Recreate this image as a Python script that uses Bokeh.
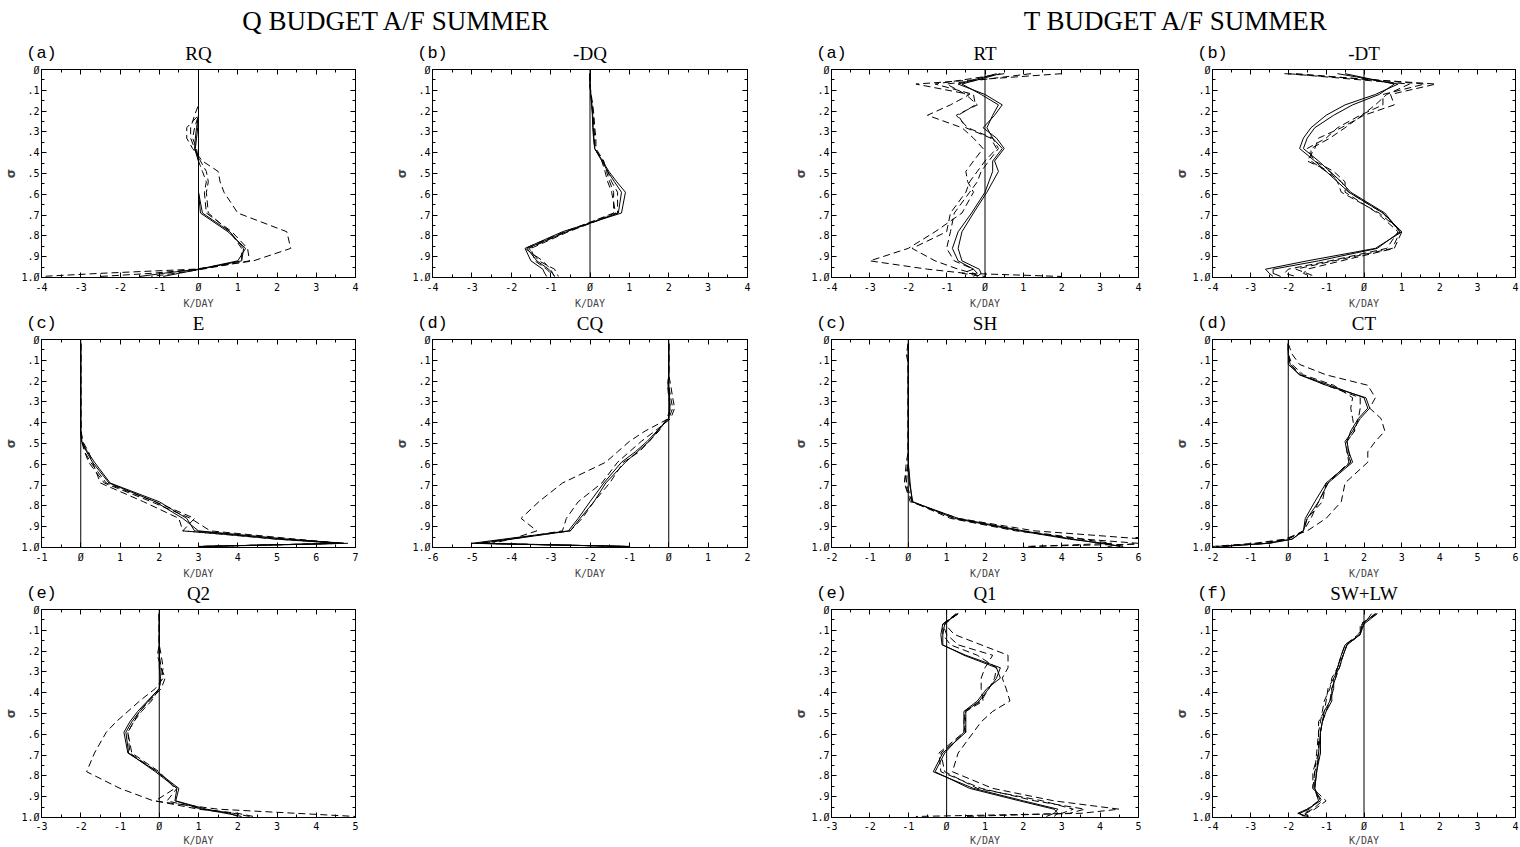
from bokeh.plotting import figure
from bokeh.models import LinearAxis, FixedTicker, Range1d, Label, Span, Spacer
from bokeh.layouts import row, column
from bokeh.embed import file_html
from bokeh.resources import INLINE

# ---------------- data ----------------
SIGMA = [0.02, 0.07, 0.12, 0.17, 0.22, 0.28, 0.33, 0.38, 0.44, 0.49,
         0.54, 0.59, 0.69, 0.78, 0.86, 0.92, 0.96, 0.98, 0.995]
Y_TICKS = [0.0, 0.1, 0.2, 0.3, 0.4, 0.5, 0.6, 0.7, 0.8, 0.9, 1.0]
Y_LABELS = ["Ø", ".1", ".2", ".3", ".4", ".5", ".6", ".7", ".8", ".9", "1.Ø"]
Y_MINOR = [0.05, 0.15, 0.25, 0.35, 0.45, 0.55, 0.65, 0.75, 0.85, 0.95]

MAIN_TITLES = ["Q BUDGET A/F SUMMER", "T BUDGET A/F SUMMER"]
X_LABEL = "K/DAY"
Y_LABEL = "σ"

# Q budget -- (a) RQ
RQ_S1 = [0, 0, 0, 0, 0, -0.05, -0.08, -0.1, 0, 0, 0, 0, 0.05, 0.75, 1.2, 1.0, 0.0, -0.9, -1.5]
RQ_S2 = [0, 0, 0, 0, 0, -0.02, -0.05, -0.08, 0, 0, 0, 0, 0.1, 0.8, 1.15, 1.1, 0.05, -0.5, -0.9]
RQ_D1 = [0, 0, 0, 0, 0, -0.3, -0.3, -0.15, 0.1, 0.5, 0.55, 0.65, 1.0, 2.25, 2.35, 1.4, -0.1, -2.5, -4.0]
RQ_D2 = [0, 0, 0, 0, -0.1, -0.2, -0.2, -0.1, 0.05, 0.2, 0.25, 0.2, 0.25, 0.8, 1.1, 1.1, 0.0, -1.2, -2.5]
RQ_D3 = [0, 0, 0, 0, 0, -0.1, -0.15, -0.05, 0, 0.1, 0.2, 0.15, 0.2, 0.85, 1.25, 1.3, 0.1, -0.6, -1.2]
# (b) -DQ
DQ_S1 = [0, 0, 0.02, 0.05, 0.07, 0.08, 0.1, 0.12, 0.32, 0.48, 0.68, 0.9, 0.8, -0.7, -1.65, -1.5, -1.2, -1.15, -1.1]
DQ_S2 = [0, 0, 0.02, 0.04, 0.06, 0.07, 0.09, 0.12, 0.3, 0.45, 0.62, 0.8, 0.72, -0.6, -1.6, -1.35, -1.05, -0.95, -0.9]
DQ_D1 = [0, 0, 0.03, 0.07, 0.1, 0.12, 0.15, 0.15, 0.35, 0.42, 0.5, 0.6, 0.6, -0.6, -1.55, -1.3, -0.9, -0.85, -0.8]
DQ_D2 = [0, 0, 0.02, 0.06, 0.08, 0.1, 0.12, 0.13, 0.3, 0.38, 0.45, 0.55, 0.65, -0.65, -1.65, -1.2, -1.0, -0.95, -0.9]
DQ_D3 = [0, 0, 0.02, 0.05, 0.07, 0.09, 0.1, 0.12, 0.33, 0.45, 0.55, 0.7, 0.7, -0.55, -1.5, -1.4, -1.1, -1.0, -1.0]
# (c) E
E_S1 = [0, 0, 0, 0, 0, 0, 0, 0, 0, 0.02, 0.15, 0.3, 0.72, 1.9, 2.6, 3.0, 5.3, 6.7, 3.0]
E_S2 = [0, 0, 0, 0, 0, 0, 0, 0, 0, 0.03, 0.17, 0.35, 0.75, 2.0, 2.7, 2.9, 5.0, 6.6, 3.1]
E_D1 = [0, 0, 0, 0, 0, 0, 0, 0, 0.01, 0.05, 0.2, 0.3, 0.5, 1.6, 2.5, 2.6, 5.0, 6.8, 3.2]
E_D2 = [0, 0, 0, 0, 0, 0, 0, 0, 0, 0.05, 0.1, 0.2, 0.6, 1.8, 2.8, 3.3, 5.5, 6.7, 3.0]
E_D3 = [0, 0, 0, 0, 0, 0, 0, 0, 0, 0.02, 0.1, 0.25, 0.65, 1.9, 2.9, 2.6, 5.2, 6.5, 3.0]
# (d) CQ
CQ_S1 = [0, 0, 0, 0, 0, 0.02, 0.02, 0, -0.3, -0.55, -0.85, -1.2, -1.65, -2.0, -2.3, -2.55, -4.2, -5.0, -1.0]
CQ_S2 = [0, 0, 0, 0, -0.02, 0.02, 0.03, 0, -0.28, -0.5, -0.8, -1.1, -1.6, -1.9, -2.25, -2.5, -4.0, -4.8, -1.1]
CQ_D1 = [0, 0, 0, 0, 0, 0.05, 0.1, 0, -0.6, -1.0, -1.3, -1.6, -2.7, -3.3, -3.75, -3.35, -4.0, -4.5, -1.2]
CQ_D2 = [0, 0, 0, 0, 0.05, 0.1, 0.15, 0.05, -0.35, -0.7, -1.0, -1.3, -1.7, -2.3, -2.6, -2.7, -4.0, -4.8, -1.0]
CQ_D3 = [0, 0, 0, 0, -0.03, 0.0, 0.05, -0.05, -0.25, -0.5, -0.75, -1.15, -1.5, -1.9, -2.2, -2.5, -4.1, -4.9, -1.0]
# (e) Q2
Q2_S1 = [0, 0, 0, 0, 0, 0.02, 0.02, 0, -0.3, -0.55, -0.75, -0.9, -0.8, -0.05, 0.5, 0.42, 1.2, 1.8, 2.0]
Q2_S2 = [0, 0, 0, 0, 0, 0.0, 0.03, 0, -0.28, -0.5, -0.7, -0.85, -0.78, -0.1, 0.45, 0.4, 1.1, 1.7, 2.1]
Q2_D1 = [0, 0, 0, 0, -0.05, 0.05, 0.1, -0.1, -0.5, -0.8, -1.1, -1.35, -1.65, -1.85, -1.0, -0.15, 1.5, 3.5, 5.0]
Q2_D2 = [0, 0, 0, 0, 0, 0.05, 0.15, 0.05, -0.25, -0.5, -0.65, -0.8, -0.75, -0.05, 0.45, 0.2, 1.1, 2.0, 2.4]
Q2_D3 = [0, 0, 0, 0, 0.05, 0.1, 0.05, 0, -0.2, -0.45, -0.65, -0.8, -0.7, 0.0, 0.4, -0.1, 1.0, 1.9, 2.3]

# T budget -- (a) RT
RT_S1 = [0.3, -0.7, 0.0, 0.45, 0.25, -0.05, 0.3, 0.5, 0.25, 0.35, 0.2, 0.05, -0.3, -0.6, -0.7, -0.6, -0.15, -0.1, -0.2]
RT_S2 = [0.4, -0.6, -0.1, 0.35, 0.2, 0.05, 0.2, 0.45, 0.2, 0.2, 0.1, 0.0, -0.35, -0.7, -0.85, -0.7, -0.3, -0.2, -0.3]
RT_D1 = [2.0, -1.8, -0.4, -0.9, -1.5, -0.6, -0.3, -0.05, -0.3, -0.5, -0.45, -0.3, -0.6, -1.3, -2.0, -3.0, -1.5, -0.5, 2.0]
RT_D2 = [0.5, -1.3, -0.3, -0.25, -0.7, -0.5, 0.15, 0.3, 0.0, -0.2, -0.4, -0.5, -0.9, -1.0, -1.9, -1.3, -0.7, -0.3, -0.2]
RT_D3 = [1.2, -1.0, -0.5, -0.2, -0.75, -0.45, 0.2, 0.35, 0.1, -0.1, -0.2, -0.4, -0.8, -0.9, -1.0, -0.8, -0.3, -0.6, 0.0]
# (b) -DT
DT_S1 = [-0.7, 0.9, 0.3, -0.5, -1.0, -1.4, -1.6, -1.7, -1.3, -1.0, -0.7, -0.4, 0.5, 1.0, 0.3, -1.5, -2.6, -2.5, -2.4]
DT_S2 = [-0.5, 0.8, 0.4, -0.3, -0.8, -1.3, -1.5, -1.6, -1.2, -0.9, -0.6, -0.35, 0.55, 0.95, 0.35, -1.2, -2.4, -2.4, -2.2]
DT_D1 = [-2.1, 1.9, 0.7, 0.8, 0.0, -0.6, -1.2, -1.3, -1.5, -0.9, -0.7, -0.6, 0.4, 1.0, 0.8, -0.6, -1.5, -1.6, -1.4]
DT_D2 = [-1.8, 1.6, 0.5, 0.5, -0.1, -0.7, -1.0, -1.5, -1.3, -0.8, -0.5, -0.5, 0.35, 0.9, 0.6, -0.9, -2.0, -2.1, -1.8]
DT_D3 = [-2.0, 1.2, 0.6, 0.3, -0.05, -0.5, -0.9, -1.4, -1.4, -1.0, -0.6, -0.4, 0.5, 0.95, 0.75, -0.8, -1.8, -1.5, -1.3]
# (c) SH
SH_S1 = [0, 0, 0, 0, 0, 0, 0, 0, 0, 0, 0, 0, 0.05, 0.1, 1.3, 3.0, 4.3, 5.0, 5.6]
SH_S2 = [0, 0, 0, 0, 0, 0, 0, 0, 0, 0, 0, 0, 0.03, 0.12, 1.2, 2.9, 4.2, 5.1, 5.5]
SH_D1 = [0, 0, 0, 0, 0, 0, 0, 0, 0, 0, 0, -0.05, -0.1, 0.05, 1.3, 3.3, 6.2, 7.0, 3.0]
SH_D2 = [0, -0.05, 0, 0, 0, 0, 0, 0, 0, 0, 0, 0, -0.1, 0.1, 1.2, 3.0, 4.6, 6.0, 5.2]
SH_D3 = [0, 0, 0, 0, 0, 0, 0, 0, 0, 0, 0, 0, -0.05, 0.1, 1.1, 2.8, 4.5, 5.3, 3.2]
# (d) CT
CT_S1 = [0, 0.0, 0.0, 0.3, 1.0, 2.05, 2.15, 1.9, 1.7, 1.5, 1.55, 1.65, 1.0, 0.7, 0.45, 0.4, 0.1, -0.5, -1.9]
CT_S2 = [0, 0, 0.05, 0.3, 1.1, 2.0, 2.1, 1.85, 1.65, 1.55, 1.6, 1.7, 1.05, 0.8, 0.5, 0.4, 0.1, -0.6, -1.7]
CT_D1 = [0, 0.1, 0.3, 1.0, 2.1, 2.3, 2.15, 2.45, 2.55, 2.3, 2.1, 2.1, 1.5, 1.4, 1.0, 0.5, -0.1, -0.9, -2.0]
CT_D2 = [0, 0, 0.1, 0.4, 1.2, 1.7, 1.65, 1.7, 1.75, 1.55, 1.55, 1.6, 1.05, 0.8, 0.6, 0.4, 0.0, -0.8, -1.8]
CT_D3 = [0, 0, 0.05, 0.35, 1.0, 1.9, 1.9, 1.85, 1.75, 1.55, 1.6, 1.65, 1.0, 0.9, 0.5, 0.4, -0.05, -0.5, -1.9]
# (e) Q1
Q1_S1 = [0.3, -0.1, -0.15, -0.12, 0.5, 1.4, 1.3, 1.1, 0.85, 0.5, 0.5, 0.5, -0.1, -0.35, 0.7, 2.0, 2.9, 2.8, 2.6]
Q1_S2 = [0.25, -0.05, -0.1, -0.1, 0.45, 1.3, 1.4, 1.05, 0.8, 0.45, 0.45, 0.45, -0.05, -0.3, 0.6, 1.9, 2.8, 2.9, 2.8]
Q1_D1 = [0.3, -0.05, 0.2, 0.9, 1.6, 1.6, 1.45, 1.55, 1.65, 1.2, 0.9, 0.7, 0.3, 0.15, 1.2, 2.8, 4.5, 3.5, -0.8]
Q1_D2 = [0.25, -0.1, 0.0, 0.3, 1.2, 1.0, 0.9, 0.9, 0.95, 0.5, 0.45, 0.5, -0.15, -0.05, 0.8, 2.5, 3.3, 3.0, 3.0]
Q1_D3 = [0.3, -0.1, -0.1, 0.1, 0.8, 1.3, 1.25, 1.1, 0.9, 0.45, 0.5, 0.45, -0.2, -0.15, 0.9, 2.3, 3.6, 3.2, 0.5]
# (f) SW+LW
RAD_S1 = [0.3, -0.05, -0.1, -0.5, -0.6, -0.7, -0.75, -0.85, -0.85, -1.0, -1.1, -1.15, -1.15, -1.25, -1.3, -1.15, -1.5, -1.75, -1.5]
RAD_S2 = [0.35, 0.0, -0.1, -0.45, -0.55, -0.65, -0.8, -0.8, -0.9, -1.05, -1.1, -1.15, -1.2, -1.25, -1.3, -1.2, -1.45, -1.7, -1.55]
RAD_D1 = [0.3, -0.05, -0.1, -0.45, -0.55, -0.7, -0.85, -0.9, -1.05, -1.1, -1.15, -1.2, -1.25, -1.3, -1.35, -1.0, -1.3, -1.55, -1.4]
RAD_D2 = [0.2, 0.0, -0.15, -0.5, -0.6, -0.7, -0.8, -0.95, -1.0, -1.05, -1.2, -1.2, -1.2, -1.35, -1.35, -1.1, -1.35, -1.6, -1.45]
RAD_D3 = [0.35, -0.1, -0.1, -0.45, -0.55, -0.65, -0.75, -0.85, -0.9, -1.0, -1.1, -1.15, -1.15, -1.3, -1.3, -1.2, -1.5, -1.7, -1.6]

# ---------------- styling / geometry ----------------
TICK_FONT = "DejaVu Sans Mono"
LETTER_FONT = "Liberation Mono"
TITLE_FONT = "Liberation Serif"
FRAME_H = 208
TOTAL_W = 1520

# frame widths, left and right borders per column
FW = [314, 315, 307, 303]
LB = [41, 41, 41, 41]
RB = [36, 43, 33, 5]
TOP_B = 5
BOT_B = 35        # rows 1 and 2
BOT_B_LAST = 30   # row 3
STRIP1_H = 64
STRIP_H = 22
LABEL_GAP = 16    # label centre above frame top
LABEL_Y = LABEL_GAP - TOP_B


def col_frame_left(i):
    x = 0
    for j in range(i):
        x += LB[j] + FW[j] + RB[j]
    return x + LB[i]


def style_axis(ax, ticks, minor, overrides, show_labels):
    ax.ticker = FixedTicker(ticks=ticks, minor_ticks=minor)
    ax.major_tick_in = 5
    ax.major_tick_out = 0
    ax.minor_tick_in = 3
    ax.minor_tick_out = 0
    ax.axis_line_color = "black"
    ax.major_tick_line_color = "black"
    ax.minor_tick_line_color = "black"
    if show_labels:
        ax.major_label_overrides = overrides
        ax.major_label_text_font = TICK_FONT
        ax.major_label_text_font_size = "10px"
        ax.major_label_text_color = "black"
    else:
        ax.major_label_overrides = {t: "" for t in ticks}
        ax.major_label_text_font_size = "1px"
        ax.major_label_text_color = None
        ax.major_label_standoff = 0


def make_panel(col, xmin, xmax, solids, dashes, last_row=False):
    fw = FW[col]
    p = figure(frame_width=fw, frame_height=FRAME_H,
               x_range=Range1d(xmin, xmax), y_range=Range1d(1.0, 0.0),
               min_border_left=LB[col], min_border_right=RB[col],
               min_border_top=TOP_B,
               min_border_bottom=(BOT_B_LAST if last_row else BOT_B),
               toolbar_location=None, output_backend="svg",
               background_fill_color="white", border_fill_color="white")
    p.xgrid.visible = False
    p.ygrid.visible = False
    p.outline_line_color = "black"
    p.outline_line_width = 1

    xt = list(range(xmin, xmax + 1))
    xminor = [xmin + 0.5 * k for k in range(2 * (xmax - xmin) + 1)]
    xover = {t: ("Ø" if t == 0 else str(t)) for t in xt}
    yover = {t: s for t, s in zip(Y_TICKS, Y_LABELS)}

    xa = p.xaxis[0]
    style_axis(xa, xt, xminor, xover, True)
    xa.major_label_standoff = 3 if last_row else 4
    xa.axis_label = X_LABEL
    xa.axis_label_text_font = TICK_FONT
    xa.axis_label_text_font_size = "10px"
    xa.axis_label_text_font_style = "normal"
    xa.axis_label_standoff = 0 if last_row else 2

    ya = p.yaxis[0]
    style_axis(ya, Y_TICKS, Y_MINOR, yover, True)
    ya.major_label_standoff = 2
    ya.axis_label = Y_LABEL
    ya.axis_label_text_font = "DejaVu Sans"
    ya.axis_label_text_font_size = "12px"
    ya.axis_label_text_font_style = "bold"
    ya.axis_label_standoff = 0

    top_ax = LinearAxis()
    style_axis(top_ax, xt, xminor, {}, False)
    p.add_layout(top_ax, "above")
    right_ax = LinearAxis()
    style_axis(right_ax, Y_TICKS, Y_MINOR, {}, False)
    p.add_layout(right_ax, "right")

    p.add_layout(Span(location=0, dimension="height", line_color="black", line_width=1))

    for vals in solids:
        p.line(vals, SIGMA, line_color="black", line_width=1)
    for vals in dashes:
        p.line(vals, SIGMA, line_color="black", line_width=1, line_dash="7 4")
    return p


def make_strip(height, letters, names, cols, titles=None, title_y=None):
    s = figure(width=TOTAL_W, height=height, x_range=Range1d(0, TOTAL_W),
               y_range=Range1d(0, height), min_border=0,
               x_axis_location=None, y_axis_location=None,
               toolbar_location=None, output_backend="svg")
    s.grid.visible = False
    s.outline_line_color = None
    for letter, name, c in zip(letters, names, cols):
        left = col_frame_left(c)
        s.add_layout(Label(x=left, y=LABEL_Y, text=letter, text_font=LETTER_FONT,
                           text_font_size="17px", text_align="center",
                           text_baseline="middle", text_color="black"))
        s.add_layout(Label(x=left + FW[c] / 2.0, y=LABEL_Y, text=name, text_font=TITLE_FONT,
                           text_font_size="19px", text_align="center",
                           text_baseline="middle", text_color="black"))
    if titles:
        for t, xc in titles:
            s.add_layout(Label(x=xc, y=title_y, text=t, text_font=TITLE_FONT,
                               text_font_size="27px", text_align="center",
                               text_baseline="middle", text_color="black"))
    return s


strip1 = make_strip(STRIP1_H, ["(a)", "(b)", "(a)", "(b)"], ["RQ", "-DQ", "RT", "-DT"], [0, 1, 2, 3],
                    titles=[(MAIN_TITLES[0], 396), (MAIN_TITLES[1], 1176)],
                    title_y=STRIP1_H - 20)
row1 = row(
    make_panel(0, -4, 4, [RQ_S1, RQ_S2], [RQ_D1, RQ_D2, RQ_D3]),
    make_panel(1, -4, 4, [DQ_S1, DQ_S2], [DQ_D1, DQ_D2, DQ_D3]),
    make_panel(2, -4, 4, [RT_S1, RT_S2], [RT_D1, RT_D2, RT_D3]),
    make_panel(3, -4, 4, [DT_S1, DT_S2], [DT_D1, DT_D2, DT_D3]),
)
strip2 = make_strip(STRIP_H, ["(c)", "(d)", "(c)", "(d)"], ["E", "CQ", "SH", "CT"], [0, 1, 2, 3])
row2 = row(
    make_panel(0, -1, 7, [E_S1, E_S2], [E_D1, E_D2, E_D3]),
    make_panel(1, -6, 2, [CQ_S1, CQ_S2], [CQ_D1, CQ_D2, CQ_D3]),
    make_panel(2, -2, 6, [SH_S1, SH_S2], [SH_D1, SH_D2, SH_D3]),
    make_panel(3, -2, 6, [CT_S1, CT_S2], [CT_D1, CT_D2, CT_D3]),
)
strip3 = make_strip(STRIP_H, ["(e)", "(e)", "(f)"], ["Q2", "Q1", "SW+LW"], [0, 2, 3])
row3 = row(
    make_panel(0, -3, 5, [Q2_S1, Q2_S2], [Q2_D1, Q2_D2, Q2_D3], last_row=True),
    Spacer(width=LB[1] + FW[1] + RB[1], height=TOP_B + FRAME_H + BOT_B_LAST),
    make_panel(2, -3, 5, [Q1_S1, Q1_S2], [Q1_D1, Q1_D2, Q1_D3], last_row=True),
    make_panel(3, -4, 4, [RAD_S1, RAD_S2], [RAD_D1, RAD_D2, RAD_D3], last_row=True),
)

layout = column(strip1, row1, strip2, row2, strip3, row3)
open("out.html", "w").write(file_html(layout, INLINE))
